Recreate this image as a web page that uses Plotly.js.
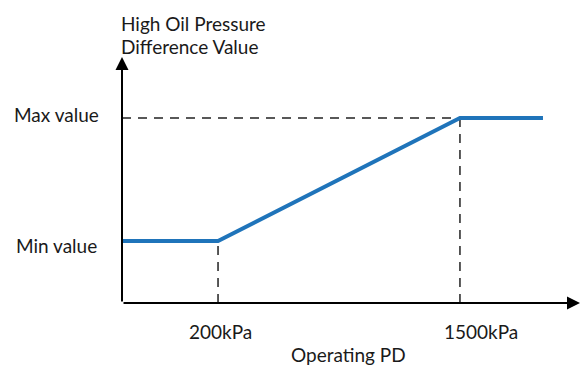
<!DOCTYPE html>
<html><head><meta charset="utf-8">
<script src="https://cdn.plot.ly/plotly-3.0.1.min.js"></script>
<style>html,body{margin:0;padding:0;background:#fff}#c{width:581px;height:367px}</style>
</head><body><div id="c"></div>
<script>
// Schematic data (x in kPa, y in abstract units: 1 = Min value, 2 = Max value)
const xRange = [-316, 2145];
const yRange = [0.496, 2.496];
const lineX = [-316, 200, 1500, 1946];
const lineY = [1, 1, 2, 2];
const breakX = [200, 1500];
const breakY = [1, 2];
const tickLabels = ['200kPa', '1500kPa'];
const levelVals = [2, 1];
const levelLabels = ['Max value', 'Min value'];
const yTitle = ['High Oil Pressure', 'Difference Value'];
const xTitle = 'Operating PD';

const font = {family: 'Lato, "Open Sans", sans-serif', size: 19, color: '#1a1a1a'};
const dashStyle = {color: '#222', width: 1.5, dash: '9px,7px'};

const traces = [
  {x: [xRange[0], breakX[1]], y: [breakY[1], breakY[1]], mode: 'lines', line: dashStyle, hoverinfo: 'skip'},
  {x: [breakX[0], breakX[0]], y: [yRange[0], breakY[0]], mode: 'lines', line: dashStyle, hoverinfo: 'skip'},
  {x: [breakX[1], breakX[1]], y: [yRange[0], breakY[1]], mode: 'lines', line: dashStyle, hoverinfo: 'skip'},
  {x: lineX, y: lineY, mode: 'lines', line: {color: '#1f74ba', width: 4}, hoverinfo: 'skip'}
];

const annotations = [
  {x: xRange[1], y: yRange[0], ax: xRange[0], ay: yRange[0], xref: 'x', yref: 'y', axref: 'x', ayref: 'y',
   showarrow: true, arrowhead: 2, arrowsize: 1.3, arrowwidth: 2, arrowcolor: '#000', text: ''},
  {x: xRange[0], y: yRange[1], ax: xRange[0], ay: yRange[0], xref: 'x', yref: 'y', axref: 'x', ayref: 'y',
   showarrow: true, arrowhead: 2, arrowsize: 1.3, arrowwidth: 2, arrowcolor: '#000', text: ''},
  {x: breakX[0], y: yRange[0], xref: 'x', yref: 'y', text: tickLabels[0], showarrow: false,
   yanchor: 'middle', yshift: -28, xshift: 2, font: font},
  {x: breakX[1], y: yRange[0], xref: 'x', yref: 'y', text: tickLabels[1], showarrow: false,
   yanchor: 'middle', yshift: -28, xshift: 21.5, font: font},
  {x: xRange[0], y: levelVals[0], xref: 'x', yref: 'y', text: levelLabels[0], showarrow: false,
   xanchor: 'right', xshift: -21, yshift: 4, font: font},
  {x: xRange[0], y: levelVals[1], xref: 'x', yref: 'y', text: levelLabels[1], showarrow: false,
   xanchor: 'right', xshift: -23, yshift: -4, font: font},
  {x: 118.5, y: 23, xref: 'paper', yref: 'paper', text: yTitle[0], showarrow: false, font: font},
  {x: 118.5, y: 46, xref: 'paper', yref: 'paper', text: yTitle[1], showarrow: false, font: font},
  {x: 348, y: 354.5, xref: 'paper', yref: 'paper', text: xTitle, showarrow: false, font: font}
];
const W = 581, H = 367, M = {l: 122, r: 1, t: 57, b: 64};
annotations.slice(-3).forEach(a => {
  a.x = (a.x - M.l) / (W - M.l - M.r);
  a.y = 1 - (a.y - M.t) / (H - M.t - M.b);
  a.yanchor = 'middle';
});

const layout = {
  width: W, height: H, margin: M, showlegend: false,
  paper_bgcolor: '#fff', plot_bgcolor: '#fff',
  xaxis: {range: xRange, visible: false, fixedrange: true},
  yaxis: {range: yRange, visible: false, fixedrange: true},
  annotations: annotations
};
Plotly.newPlot('c', traces, layout, {staticPlot: true});
</script></body></html>
